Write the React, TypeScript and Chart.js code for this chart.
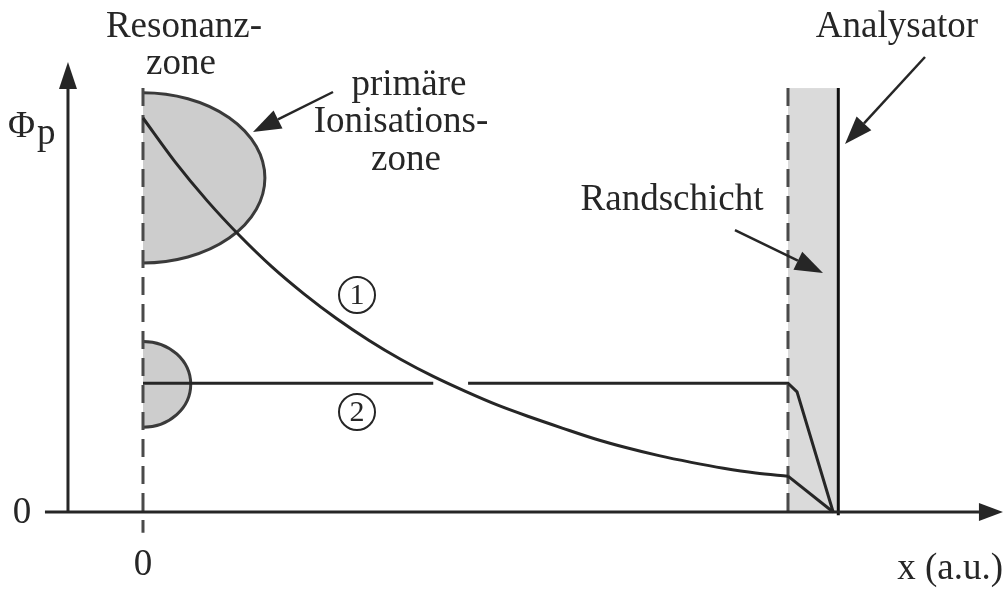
import { useEffect, useRef } from "react";
import { Chart, registerables } from "chart.js";

Chart.register(...registerables);

// Curve 1: potential profile with primary ionisation zone (x in a.u., Φp in a.u.)
const curve1X = [0, 0.5, 1, 1.5, 2, 2.5, 3, 3.5, 4, 4.5, 5, 5.5, 6, 6.5, 7, 7.5, 8, 8.5, 9, 9.5, 10];
const curve1Y = [10, 8.88, 7.89, 7.01, 6.22, 5.53, 4.91, 4.36, 3.87, 3.44, 3.06, 2.71, 2.41, 2.13, 1.86, 1.63, 1.43, 1.26, 1.11, 0.99, 0.91];
// Curve 1 inside the sheath (Randschicht)
const sheath1X = [10, 10.7];
const sheath1Y = [0.91, 0];
// Curve 2: flat profile, broken where curve 1 crosses, then sheath drop
const curve2X = [0, 4.5, 4.77, 5.04, 10, 10.14, 10.7];
const curve2Y = [3.27, 3.27, null, 3.27, 3.27, 3.05, 0];

// Ionisation zones (half ellipses at x = 0)
const zoneCenterY = [8.48, 3.24];
const zoneRadiusX = [1.89, 0.74];
const zoneRadiusY = [2.16, 1.09];

// Sheath / analyser
const sheathStartX = 10;
const analyserX = 10.78;
const wallTopY = 10.76;

// Axis tick labels
const xTickLabels = ["0"];
const yTickLabels = ["0"];

const FONT = '"Liberation Serif", "Times New Roman", serif';
const INK = "#262626";

function arrow(ctx: CanvasRenderingContext2D, x1: number, y1: number, x2: number, y2: number, len: number, half: number, lw: number) {
  const a = Math.atan2(y2 - y1, x2 - x1);
  const bx = x2 - Math.cos(a) * len;
  const by = y2 - Math.sin(a) * len;
  ctx.lineWidth = lw;
  ctx.beginPath();
  ctx.moveTo(x1, y1);
  ctx.lineTo(bx, by);
  ctx.stroke();
  ctx.beginPath();
  ctx.moveTo(x2, y2);
  ctx.lineTo(bx + Math.sin(a) * half, by - Math.cos(a) * half);
  ctx.lineTo(bx - Math.sin(a) * half, by + Math.cos(a) * half);
  ctx.closePath();
  ctx.fill();
}

const diagramPlugin = {
  id: "diagram",
  beforeDatasetsDraw(chart: any) {
    const { ctx, scales } = chart;
    const X = (v: number) => scales.x.getPixelForValue(v);
    const Y = (v: number) => scales.y.getPixelForValue(v);
    ctx.save();
    // sheath fill
    ctx.fillStyle = "#dadada";
    ctx.fillRect(X(sheathStartX), Y(wallTopY), X(analyserX) - X(sheathStartX), Y(0) - Y(wallTopY));
    // zones
    for (let i = 0; i < zoneCenterY.length; i++) {
      const cx = X(0);
      const cy = Y(zoneCenterY[i]);
      const rx = X(zoneRadiusX[i]) - X(0);
      const ry = Y(0) - Y(zoneRadiusY[i]);
      ctx.beginPath();
      ctx.ellipse(cx, cy, rx, ry, 0, -Math.PI / 2, Math.PI / 2);
      ctx.closePath();
      ctx.fillStyle = "#cdcdcd";
      ctx.fill();
      ctx.beginPath();
      ctx.ellipse(cx, cy, rx, ry, 0, -Math.PI / 2, Math.PI / 2);
      ctx.strokeStyle = "#3a3a3a";
      ctx.lineWidth = 3;
      ctx.stroke();
    }
    // dashed lines
    ctx.strokeStyle = "#4a4a4a";
    ctx.lineWidth = 3;
    ctx.setLineDash([18, 9]);
    ctx.beginPath();
    ctx.moveTo(X(0), Y(wallTopY));
    ctx.lineTo(X(0), Y(-0.53));
    ctx.stroke();
    ctx.beginPath();
    ctx.moveTo(X(sheathStartX), Y(wallTopY));
    ctx.lineTo(X(sheathStartX), Y(0));
    ctx.stroke();
    ctx.setLineDash([]);
    // analyser wall
    ctx.strokeStyle = "#111";
    ctx.lineWidth = 3;
    ctx.beginPath();
    ctx.moveTo(X(analyserX), Y(wallTopY));
    ctx.lineTo(X(analyserX), Y(-0.08));
    ctx.stroke();
    // axes
    ctx.strokeStyle = INK;
    ctx.fillStyle = INK;
    arrow(ctx, X(-1.163), Y(0), X(-1.163), Y(11.42), 27, 9, 3);
    arrow(ctx, X(-1.52), Y(0), X(13.333), Y(0), 24, 9, 3);
    ctx.restore();
  },
  afterDatasetsDraw(chart: any) {
    const { ctx, scales } = chart;
    const X = (v: number) => scales.x.getPixelForValue(v);
    const Y = (v: number) => scales.y.getPixelForValue(v);
    ctx.save();
    ctx.strokeStyle = INK;
    ctx.fillStyle = INK;
    // pointer arrows
    arrow(ctx, X(2.946), Y(10.66), X(1.705), Y(9.645), 28, 10, 2.5);
    arrow(ctx, X(12.124), Y(11.548), X(10.884), Y(9.34), 28, 10, 2.5);
    arrow(ctx, X(9.178), Y(7.157), X(10.543), Y(6.066), 28, 10, 2.5);
    // texts
    ctx.font = `37px ${FONT}`;
    ctx.textBaseline = "alphabetic";
    ctx.textAlign = "center";
    ctx.fillText("Resonanz-", X(0.636), Y(12.056));
    ctx.fillText("zone", X(0.589), Y(11.117));
    ctx.fillText("primäre", X(4.124), Y(10.584));
    ctx.fillText("Ionisations-", X(4.0), Y(9.645));
    ctx.fillText("zone", X(4.078), Y(8.68));
    ctx.fillText("Randschicht", X(8.202), Y(7.665));
    ctx.fillText("Analysator", X(11.69), Y(12.056));
    ctx.fillText(xTickLabels[0], X(0), Y(-1.599));
    ctx.fillText(yTickLabels[0], X(-1.876), Y(-0.279));
    ctx.textAlign = "right";
    ctx.fillText("x (a.u.)", X(13.333), Y(-1.701));
    ctx.textAlign = "left";
    ctx.fillText("Φ", X(-2.093), Y(9.518));
    ctx.fillText("p", X(-1.643), Y(9.34));
    // circled numbers
    const marks: [string, number, number][] = [["1", 3.318, 5.508], ["2", 3.318, 2.538]];
    ctx.textAlign = "center";
    ctx.textBaseline = "middle";
    ctx.font = `30px ${FONT}`;
    ctx.lineWidth = 2;
    for (const [t, mx, my] of marks) {
      ctx.beginPath();
      ctx.arc(X(mx), Y(my), 18, 0, Math.PI * 2);
      ctx.stroke();
      ctx.fillText(t, X(mx), Y(my) + 1);
    }
    ctx.restore();
  },
};

export default function App() {
  const ref = useRef<HTMLCanvasElement>(null);
  useEffect(() => {
    document.body.style.margin = "0";
    const canvas = ref.current!;
    const line = (xs: number[], ys: (number | null)[]) => xs.map((x, i) => ({ x, y: ys[i] }));
    const chart = new Chart(canvas, {
      type: "scatter",
      data: {
        datasets: [
          {
            label: "1",
            data: line(curve1X, curve1Y) as any,
            showLine: true,
            cubicInterpolationMode: "monotone",
            borderColor: INK,
            borderWidth: 3,
            pointRadius: 0,
          },
          {
            label: "1s",
            data: line(sheath1X, sheath1Y) as any,
            showLine: true,
            borderColor: INK,
            borderWidth: 3,
            pointRadius: 0,
          },
          {
            label: "2",
            data: line(curve2X, curve2Y) as any,
            showLine: true,
            spanGaps: false,
            borderColor: INK,
            borderWidth: 3,
            pointRadius: 0,
          },
        ],
      },
      options: {
        animation: false,
        responsive: false,
        devicePixelRatio: 1,
        layout: { padding: 0 },
        plugins: { legend: { display: false }, tooltip: { enabled: false } },
        events: [],
        scales: {
          x: { type: "linear", display: false, min: -2.217, max: 13.349 },
          y: { type: "linear", display: false, min: -1.98, max: 12.995 },
        },
      },
      plugins: [diagramPlugin],
    });
    return () => chart.destroy();
  }, []);
  return (
    <div style={{ width: 1004, height: 590, background: "#fff" }}>
      <canvas ref={ref} width={1004} height={590} style={{ display: "block" }} />
    </div>
  );
}
